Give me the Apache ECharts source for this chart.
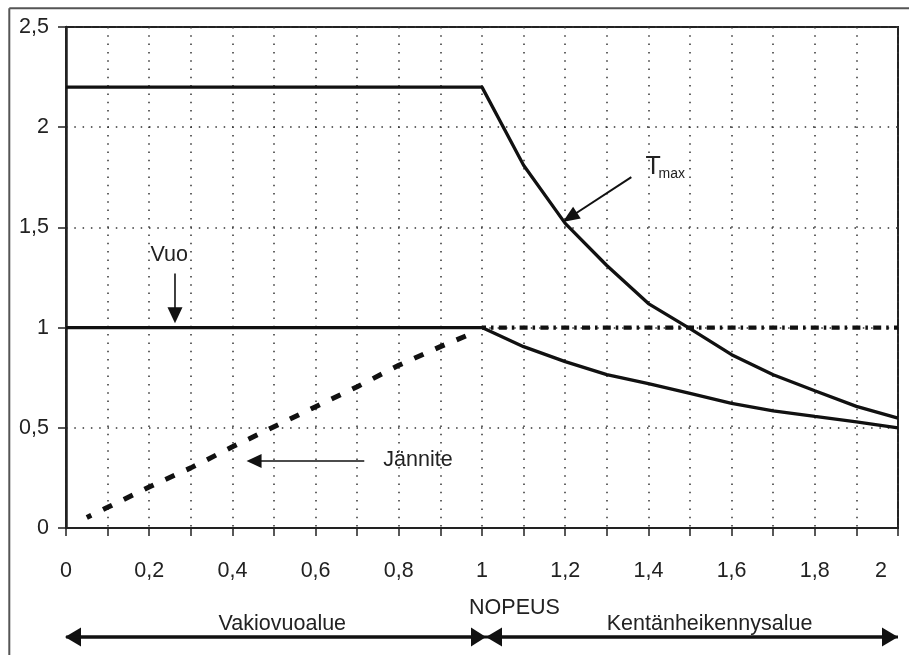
<!DOCTYPE html>
<html><head><meta charset="utf-8">
<script src="https://cdn.jsdelivr.net/npm/echarts@6/dist/echarts.min.js"></script>
<style>html,body{margin:0;padding:0;background:#fff}#c{width:909px;height:655px}</style>
</head><body><div id="c"></div>
<script>
// ---- data ----
const xTickLabels = ['0','0,2','0,4','0,6','0,8','1','1,2','1,4','1,6','1,8','2'];
const yTickLabels = ['0','0,5','1','1,5','2','2,5'];
const tmaxData = [[0,2.2],[1.0,2.2],[1.1,1.81],[1.2,1.52],[1.3,1.31],[1.4,1.12],[1.5,0.995],[1.6,0.865],[1.7,0.765],[1.8,0.685],[1.9,0.607],[2.0,0.548]];
const vuoData = [[0,1],[1.0,1],[1.1,0.905],[1.2,0.83],[1.3,0.765],[1.4,0.72],[1.5,0.672],[1.6,0.622],[1.7,0.585],[1.8,0.557],[1.9,0.53],[2.0,0.5]];
const janniteData = [[0.05,0.053],[0.1,0.103],[0.2,0.205],[0.3,0.3],[0.4,0.405],[0.5,0.505],[0.6,0.605],[0.7,0.705],[0.8,0.812],[0.9,0.905],[0.98,0.975]];
const janniteConstData = [[1.0,1],[2.0,1]];
const labelTexts = { vuo:'Vuo', jannite:'Jännite', tMain:'T', tSub:'max', speed:'NOPEUS', left:'Vakiovuoalue', right:'Kentänheikennysalue' };

const FONT = '"Liberation Sans", Arial, sans-serif';
const TXT = '#222';
const FS = 21.5;

const chart = echarts.init(document.getElementById('c'), null, {renderer:'canvas'});
chart.setOption({
  animation:false,
  backgroundColor:'#fff',
  grid:{left:66, right:11, top:27, bottom:127, containLabel:false, outerBoundsMode:'none',
        show:true, borderColor:'#222', borderWidth:2},
  xAxis:{type:'value', min:0, max:2, interval:0.1,
    axisLine:{show:true, onZero:false, lineStyle:{color:'#222', width:2}},
    axisTick:{show:true, length:8, lineStyle:{color:'#222', width:1.5}},
    splitLine:{show:true, lineStyle:{color:'#333', width:1.5, type:[1.5,6.8]}},
    axisLabel:{margin:32, fontSize:FS, fontFamily:FONT, color:TXT,
      formatter:function(v){const k=Math.round(v*10); if(k%2!==0) return ''; const t=xTickLabels[k/2]; return k===20?'{e|'+t+'}':t;},
      rich:{e:{fontSize:FS, fontFamily:FONT, color:TXT, padding:[0,34,0,0]}}}
  },
  yAxis:{type:'value', min:0, max:2.5, interval:0.5,
    axisLine:{show:true, lineStyle:{color:'#222', width:2.5}},
    axisTick:{show:true, length:8, lineStyle:{color:'#222', width:1.5}},
    splitLine:{show:true, lineStyle:{color:'#333', width:1.5, type:[1.5,6.8]}},
    axisLabel:{margin:17, fontSize:FS, fontFamily:FONT, color:TXT,
      formatter:function(v){return yTickLabels[Math.round(v*2)];}}
  },
  series:[
    {name:'Tmax', type:'line', data:tmaxData, symbol:'none', silent:true,
     lineStyle:{color:'#111', width:3.3}},
    {name:'Vuo', type:'line', data:vuoData, symbol:'none', silent:true,
     lineStyle:{color:'#111', width:3.3}},
    {name:'Jännite', type:'line', data:janniteData, symbol:'none', silent:true,
     lineStyle:{color:'#111', width:5, type:[10,13.07], dashOffset:5}},
    {name:'Jännite vakio', type:'line', data:janniteConstData, symbol:'none', silent:true,
     lineStyle:{color:'#111', width:4.3, type:[8,5,2.5,5.3], dashOffset:4}}
  ]
});

function P(x,y){return chart.convertToPixel({gridIndex:0},[x,y]);}
function arrow(p1,p2,headLen,headW,lw,col){
  col=col||'#111';
  const dx=p2[0]-p1[0], dy=p2[1]-p1[1], L=Math.hypot(dx,dy), ux=dx/L, uy=dy/L;
  const bx=p2[0]-ux*headLen, by=p2[1]-uy*headLen, nx=-uy, ny=ux;
  return [
    {type:'line', z:100, shape:{x1:p1[0],y1:p1[1],x2:bx+ux*2,y2:by+uy*2}, style:{stroke:col, lineWidth:lw}},
    {type:'polygon', z:100, shape:{points:[[p2[0],p2[1]],[bx+nx*headW/2,by+ny*headW/2],[bx-nx*headW/2,by-ny*headW/2]]}, style:{fill:col}}
  ];
}
function text(t,x,y,opt){
  opt=opt||{};
  const fs=opt.fs||FS;
  return {type:'text', z:100, x:x, y:y, style:{text:t, fontSize:fs, fontFamily:FONT, fill:TXT,
    align:opt.align||'center', textAlign:opt.align||'center', verticalAlign:'middle', textVerticalAlign:'middle'}};
}

const g=[];
// outer frame
g.push({type:'line', z:100, shape:{x1:9.3,y1:8.3,x2:909,y2:8.3}, style:{stroke:'#555', lineWidth:2}});
g.push({type:'line', z:100, shape:{x1:9.3,y1:8.3,x2:9.3,y2:655}, style:{stroke:'#555', lineWidth:2}});
// Vuo
let p=P(0.248,1.36); g.push(text(labelTexts.vuo,p[0],p[1]));
g.push(...arrow(P(0.262,1.27),P(0.262,1.022),16,15,1.6));
// Tmax
p=P(1.393,1.8); g.push(text(labelTexts.tMain,p[0],p[1],{align:'left',fs:25}));
g.push(text(labelTexts.tSub,p[0]+13,p[1]+7,{align:'left',fs:14}));
g.push(...arrow(P(1.359,1.751),P(1.194,1.527),17,14,2));
// Jännite
p=P(0.846,0.339); g.push(text(labelTexts.jannite,p[0],p[1]));
g.push(...arrow(P(0.717,0.334),P(0.434,0.334),15,14,1.6));
// bottom region
const yb=P(0,0)[1];
const x0=P(0,0)[0], x1=P(1,0)[0], x2=P(2,0)[0];
const ya=yb+109;
g.push(...arrow([x1+4,ya],[x0-1,ya],16,19,3));
g.push(...arrow([x0,ya],[x1+4,ya],15,19,3));
g.push(...arrow([x2,ya],[x1+4,ya],16,19,3));
g.push(...arrow([x1+4,ya],[x2,ya],16,19,3));
g.push(text(labelTexts.speed,P(1.078,0)[0],yb+80));
g.push(text(labelTexts.left,P(0.52,0)[0],yb+96));
g.push(text(labelTexts.right,P(1.547,0)[0],yb+96));
chart.setOption({graphic:g});
</script></body></html>
